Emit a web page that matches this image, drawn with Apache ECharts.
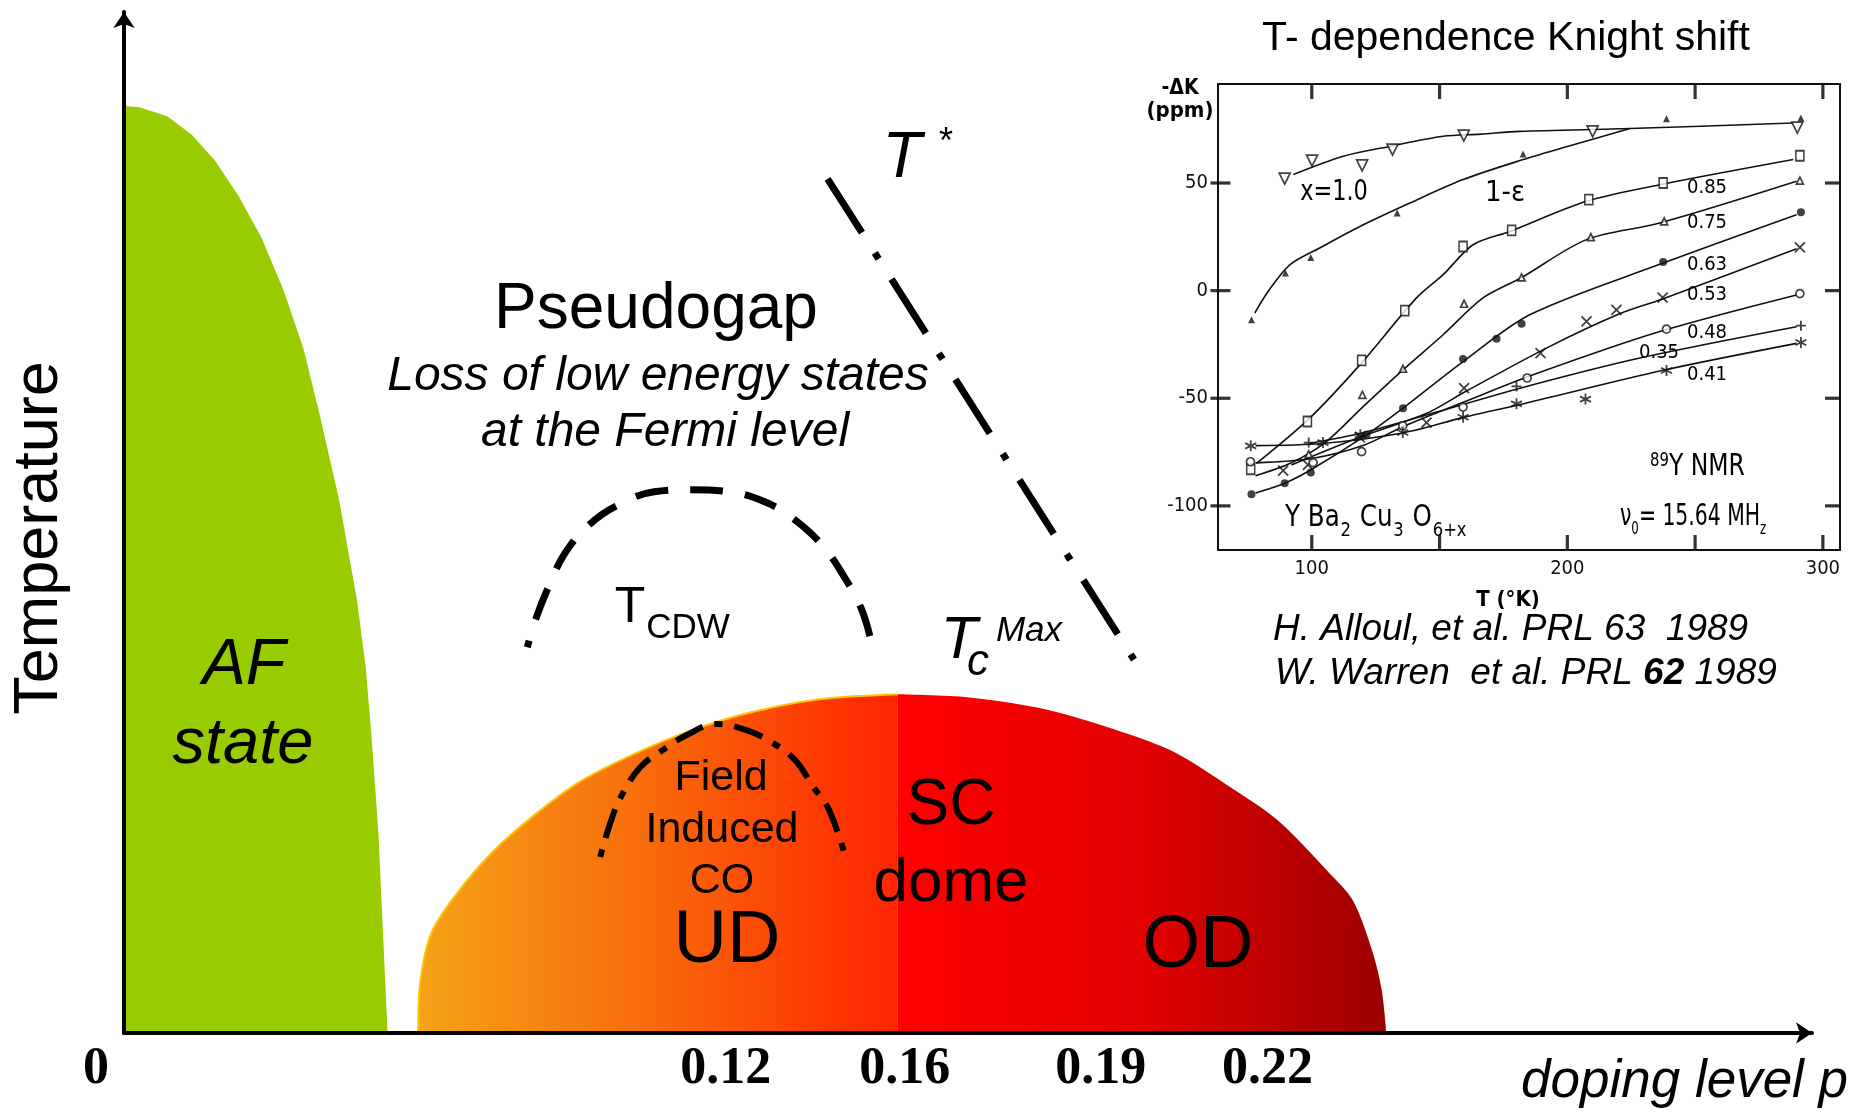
<!DOCTYPE html>
<html><head><meta charset="utf-8">
<script src="https://cdn.jsdelivr.net/npm/echarts@6/dist/echarts.min.js"></script>
<style>html,body{margin:0;padding:0;background:#fff}#c{width:1871px;height:1112px}</style>
</head><body><div id="c"></div>
<script>
// ---------------- Main phase diagram: x = doping level p, y = temperature (arb. units) ----------------
const dopingTicks = [0, 0.12, 0.16, 0.19, 0.22];
const afBoundary = [[0,90.6],[0.0030,90.5],[0.0085,89.6],[0.0133,87.8],[0.0178,85.3],[0.0225,81.8],[0.0270,77.7],[0.0313,72.6],[0.0352,66.9],[0.0384,60.4],[0.0422,52.1],[0.0457,42.3],[0.0474,35.8],[0.0485,29.3],[0.0499,19.6],[0.0508,9.8],[0.0517,0]];
const domeUD = [[0.0577,0],[0.0581,4.9],[0.0603,9.8],[0.0654,13.7],[0.0721,17.6],[0.0800,21.1],[0.0889,24.4],[0.1002,27.3],[0.1114,29.6],[0.1226,31.3],[0.1361,32.6],[0.1518,33.1]];
const domeOD = [[0.1518,33.1],[0.1658,32.8],[0.1811,31.6],[0.1977,29.1],[0.2066,27.3],[0.2168,24.1],[0.2263,20.8],[0.2365,15.6],[0.2410,13.0],[0.2448,8.1],[0.2467,4.2],[0.2476,0]];
const tStarLine = [[0.1380,83.5],[0.1981,36.5]];
const tCdwArc = [[0.0791,37.7],[0.0808,40.5],[0.0830,43.3],[0.0865,46.9],[0.0913,49.7],[0.0965,51.5],[0.1040,52.9],[0.1110,53.1],[0.1188,52.9],[0.1258,51.9],[0.1315,50.2],[0.1371,47.6],[0.1415,44.4],[0.1446,41.5],[0.1463,38.8]];
const fieldCoArc = [[0.0934,17.2],[0.0957,21.0],[0.0977,23.3],[0.1013,26.0],[0.1058,27.7],[0.1103,29.1],[0.1162,30.2],[0.1221,29.6],[0.1271,28.4],[0.1316,26.7],[0.1350,24.2],[0.1383,21.8],[0.1417,16.9]];

// ---------------- Inset: T-dependence of the 89Y Knight shift (T in K, -dK in ppm) ----------------
const insetTRange = [63.3, 306.7];
const insetKRange = [-120.5, 96];
const insetTTicks = [100, 150, 200, 250, 300];
const insetTLabels = [100, 200, 300];
const insetKTicks = [-100, -50, 0, 50];
const x10Curve = [[92.8,53.9],[112.3,62.4],[130.5,67],[151.4,71.7],[166,72.7],[181.4,74],[224.5,75.3],[288.4,77.9]];
const x10Marks = [[89.4,52],[100.1,60.4],[119.7,58.2],[131.6,65.5],[159.5,72],[209.9,74],[290,75.7]];
const epsCurve = [[77.7,-10.4],[82.9,-0.4],[91.4,12],[103.1,19.8],[118.8,29.8],[138.4,40.7],[159.2,51.6],[182.7,60.9],[200,67],[224.5,75.3]];
const epsMarks = [[76.4,-13.5],[89.7,8.2],[99.6,15.4],[133.4,36.1],[182.7,63.5],[238.8,79.8],[291.4,80.2]];
const p85Curve = [[78.4,-80.2],[99.2,-59.2],[118.8,-34.5],[140.9,-3.5],[151.4,7.4],[163.1,21.3],[177.5,27.5],[207.5,41.5],[236.2,49.2],[288.4,60.9]];
const p85Marks = [[76.1,-83],[98.3,-60.8],[119.5,-32.4],[136.4,-9.3],[159.2,20.5],[178.2,28],[208.4,42.3],[237.5,50],[291,62.7]];
const p75Curve = [[78,-86],[92,-80],[105.7,-70.1],[120,-54],[135.7,-36.8],[151.4,-20.5],[167,-3.4],[182,6],[207.5,23.7],[236.2,31.4],[289.7,50.8]];
const p75Marks = [[98.8,-76],[119.8,-48.4],[135.7,-36.3],[159.6,-6.1],[182.1,6.2],[209.2,24.9],[237.9,32.2],[291,51.1]];
const p63Curve = [[78,-94],[89.4,-89.5],[100,-83],[121.4,-67],[135.7,-54.6],[159.2,-33],[185.3,-11.2],[235.6,12],[289.7,35.3]];
const p63Marks = [[76.4,-94.6],[89.4,-89.5],[99.6,-84.5],[121.4,-67],[135.7,-54.6],[159.2,-31.8],[172.3,-22.4],[182.1,-15.4],[237.5,13.3],[291.4,36.4]];
const p53Curve = [[92,-81],[119,-68],[145,-57],[160,-47],[191.8,-26.7],[220,-11],[237,-4],[289.7,19.5]];
const p53Marks = [[88.8,-83.6],[98.5,-81],[118.8,-68.2],[144.9,-61.3],[159.6,-45.3],[189.5,-29],[207.5,-14.3],[219.2,-8.9],[237.3,-3.2],[291,20.1]];
const p48Curve = [[78,-80],[100,-78],[120,-72],[136,-63],[159,-52],[186.6,-39.1],[236.2,-19],[289.7,-2]];
const p48Marks = [[76,-79.5],[100.5,-79.9],[119.5,-74.8],[135.6,-62.8],[159.2,-54.1],[184.3,-40.6],[238.8,-17.9],[291,-1.4]];
const p35Curve = [[99,-71],[120,-66],[150,-56],[184,-44.5],[228.4,-31.3],[289.7,-16.8]];
const p35Marks = [[98.8,-70.6],[180.1,-44.5],[291.4,-16.3]];
const p41Curve = [[78,-72],[104,-71],[136,-66],[159,-59],[184,-52.2],[237.5,-37],[289.7,-24.5]];
const p41Marks = [[76.1,-72.1],[104.4,-70.6],[119,-67],[135.6,-65.9],[159.2,-58.8],[180.1,-52.6],[207.1,-50.4],[238.8,-37.1],[291.4,-24.1]];

// ---------------- styles ----------------
const SANS = "'Liberation Sans', Arial, sans-serif";
const NARROW = "'Liberation Sans Narrow','DejaVu Sans Condensed','Liberation Sans',sans-serif";
const CROSS = 'path://M0,0L10,10M10,0L0,10';
const PLUS = 'path://M5,0L5,10M0,5L10,5';
const STAR = 'path://M5,0L5,10M0.7,2.5L9.3,7.5M0.7,7.5L9.3,2.5';
const insetDefs = [
  {curve: x10Curve, marks: x10Marks, symbol: 'triangle', rotate: 180, size: 11, open: true},
  {curve: epsCurve, marks: epsMarks, symbol: 'triangle', rotate: 0, size: 7, open: false},
  {curve: p85Curve, marks: p85Marks, symbol: 'rect', rotate: 0, size: [8, 10], open: true},
  {curve: p75Curve, marks: p75Marks, symbol: 'triangle', rotate: 0, size: 7, open: true},
  {curve: p63Curve, marks: p63Marks, symbol: 'circle', rotate: 0, size: 8, open: false},
  {curve: p53Curve, marks: p53Marks, symbol: CROSS, rotate: 0, size: 10, path: true},
  {curve: p48Curve, marks: p48Marks, symbol: 'circle', rotate: 0, size: 8, open: true},
  {curve: p35Curve, marks: p35Marks, symbol: PLUS, rotate: 0, size: 10, path: true},
  {curve: p41Curve, marks: p41Marks, symbol: STAR, rotate: 0, size: 11, path: true}
];
const tickShift = [-28, -10, -35, 8, 22];
const tickRich = {};
dopingTicks.forEach((v, i) => {
  const s = tickShift[i];
  tickRich['k' + i] = {padding: s < 0 ? [0, -2 * s, 0, 0] : [0, 0, 0, 2 * s],
    fontSize: 52, fontWeight: 'bold', fontFamily: "'Liberation Serif','Times New Roman',serif", color: '#000'};
});

const chart = echarts.init(document.getElementById('c'), null, {renderer: 'canvas'});

const series = [
  {type: 'line', xAxisIndex: 0, yAxisIndex: 0, data: afBoundary, showSymbol: false, silent: true, z: 1,
   lineStyle: {width: 0, color: '#99CC00'}, areaStyle: {color: '#99CC00', opacity: 1}},
  {type: 'line', xAxisIndex: 0, yAxisIndex: 0, data: domeUD, showSymbol: false, silent: true, smooth: 0.3, z: 1,
   lineStyle: {width: 2, color: '#FFC400'},
   areaStyle: {opacity: 1, color: new echarts.graphic.LinearGradient(0, 0, 1, 0, [
     {offset: 0, color: '#F4A316'}, {offset: 0.5, color: '#F8680B'}, {offset: 1, color: '#FF2400'}])}},
  {type: 'line', xAxisIndex: 0, yAxisIndex: 0, data: domeOD, showSymbol: false, silent: true, smooth: 0.3, z: 1,
   lineStyle: {width: 0, color: '#FF0000'},
   areaStyle: {opacity: 1, color: new echarts.graphic.LinearGradient(0, 0, 1, 0, [
     {offset: 0, color: '#FF0000'}, {offset: 0.5, color: '#E20000'}, {offset: 1, color: '#9C0000'}])}},
  {type: 'line', xAxisIndex: 0, yAxisIndex: 0, data: tStarLine, showSymbol: false, silent: true, z: 3,
   lineStyle: {color: '#000', width: 7, type: [64, 24, 7, 24], cap: 'butt'}},
  {type: 'line', xAxisIndex: 0, yAxisIndex: 0, data: tCdwArc, showSymbol: false, silent: true, smooth: 0.4, z: 3,
   lineStyle: {color: '#000', width: 7, type: [33, 22], dashOffset: 26, cap: 'butt'}},
  {type: 'line', xAxisIndex: 0, yAxisIndex: 0, data: fieldCoArc, showSymbol: false, silent: true, smooth: 0.4, z: 3,
   lineStyle: {color: '#000', width: 6, type: [30, 12, 8, 12], dashOffset: 42, cap: 'butt'}}
];
insetDefs.forEach(d => {
  series.push({type: 'line', xAxisIndex: 1, yAxisIndex: 1, data: d.curve, showSymbol: false, silent: true,
    smooth: 0.3, z: 4, lineStyle: {color: '#111', width: 1.6}});
  series.push({type: 'scatter', xAxisIndex: 1, yAxisIndex: 1, data: d.marks, silent: true, z: 5,
    symbol: d.symbol, symbolSize: d.size, symbolRotate: d.rotate,
    itemStyle: d.path ? {color: 'rgba(0,0,0,0)', borderColor: '#111', borderWidth: 1.8}
      : (d.open ? {color: '#fff', borderColor: '#111', borderWidth: 1.7} : {color: '#111'})});
});
// inset frame tick marks, placed by the inset axes' scales
function tickSeries(data, size, offset) {
  return {type: 'scatter', xAxisIndex: 1, yAxisIndex: 1, data: data, silent: true, z: 6, clip: false,
    symbol: 'rect', symbolSize: size, symbolOffset: offset, itemStyle: {color: '#000'}};
}
series.push(tickSeries(insetTTicks.map(t => [t, insetKRange[0]]), [3.2, 15], [0, -7.5]));
series.push(tickSeries(insetTTicks.map(t => [t, insetKRange[1]]), [3.2, 15], [0, 7.5]));
series.push(tickSeries(insetKTicks.map(k => [insetTRange[0], k]), [20, 3.2], [2.5, 0]));
series.push(tickSeries(insetKTicks.map(k => [insetTRange[1], k]), [15, 3.2], [-7.5, 0]));

function txt(text, x, y, font, align, extra, sx) {
  align = align || 'center';
  const el = {type: 'text', x: x, y: y, z: 100, silent: true,
    style: Object.assign({text: text, font: font, fill: '#000', align: align, verticalAlign: 'middle',
      textAlign: align, textVerticalAlign: 'middle'}, extra || {})};
  if (sx) { el.scaleX = sx; }
  return el;
}
const graphics = [
  txt('Pseudogap', 656, 310, '64px ' + SANS),
  txt('Loss of low energy states', 658, 377, 'italic 48px ' + SANS),
  txt('at the Fermi level', 665, 433, 'italic 48px ' + SANS),
  txt('T', 902, 159, 'italic 64px ' + SANS),
  txt('*', 946, 143, '36px ' + SANS),
  txt('T', 630, 608, '50px ' + SANS),
  txt('CDW', 688, 628, '35px ' + SANS),
  txt('T', 959, 641, 'italic 60px ' + SANS),
  txt('c', 978, 663, 'italic 44px ' + SANS),
  txt('Max', 1029, 631, 'italic 35px ' + SANS),
  txt('AF', 244, 666, 'italic 65px ' + SANS),
  txt('state', 243, 745, 'italic 65px ' + SANS),
  txt('Field', 721, 778, '43px ' + SANS),
  txt('Induced', 722, 830, '43px ' + SANS),
  txt('CO', 722, 881, '43px ' + SANS),
  txt('UD', 727, 942, '74px ' + SANS),
  txt('SC', 951, 806, '64px ' + SANS),
  txt('dome', 951, 884, '62px ' + SANS),
  txt('OD', 1198, 947, '74px ' + SANS),
  txt('doping level p', 1521, 1082, 'italic 53px ' + SANS, 'left'),
  // inset
  txt('T- dependence Knight shift', 1506, 39, '41px ' + SANS),
  txt('-\u0394K', 1180, 89, 'bold 21px ' + NARROW),
  txt('(ppm)', 1180, 111, 'bold 22px ' + NARROW),
  txt('T (\u00b0K)', 1508, 600, 'bold 22px ' + NARROW),
  txt('x=1.0', 1334, 192, '29px ' + NARROW, 'center', null, 0.86),
  txt('1-\u03b5', 1505, 193, '29px ' + NARROW),
  txt('0.85', 1707, 188, '20px ' + NARROW),
  txt('0.75', 1707, 223, '20px ' + NARROW),
  txt('0.63', 1707, 265, '20px ' + NARROW),
  txt('0.53', 1707, 295, '20px ' + NARROW),
  txt('0.48', 1707, 333, '20px ' + NARROW),
  txt('0.35', 1659, 353, '20px ' + NARROW),
  txt('0.41', 1707, 375, '20px ' + NARROW),
  txt('{p|89}{n|Y NMR}', 1650, 467, '30px ' + NARROW, 'left', {rich: {
    p: {fontSize: 19, fontFamily: NARROW, lineHeight: 19, padding: [0, 0, 19, 0], verticalAlign: 'top'},
    n: {fontSize: 30, fontFamily: NARROW, lineHeight: 30, verticalAlign: 'bottom'}}}, 0.87),
  txt('{n|\u03bd}{s|0}{n|= 15.64 MH}{s|z}', 1620, 517, '31px ' + NARROW, 'left', {rich: {
    n: {fontSize: 31, fontFamily: NARROW, lineHeight: 31, verticalAlign: 'top'},
    s: {fontSize: 18, fontFamily: NARROW, lineHeight: 18, padding: [19, 0, 0, 0], verticalAlign: 'top'}}}, 0.73),
  txt('{n|Y Ba}{s|2}{n| Cu}{s|3}{n| O}{s|6+x}', 1285, 518, '30px ' + NARROW, 'left', {rich: {
    n: {fontSize: 30, fontFamily: NARROW, lineHeight: 30, verticalAlign: 'top'},
    s: {fontSize: 20, fontFamily: NARROW, lineHeight: 20, padding: [18, 1, 0, 1], verticalAlign: 'top'}}}, 0.91),
  txt('H. Alloul, et al. PRL 63  1989', 1273, 630, 'italic 37px ' + SANS, 'left'),
  txt('{i|W. Warren  et al. PRL }{b|62}{i| 1989}', 1275, 674, 'italic 37px ' + SANS, 'left', {rich: {
    i: {fontSize: 37, fontStyle: 'italic', fontFamily: SANS},
    b: {fontSize: 37, fontStyle: 'italic', fontWeight: 'bold', fontFamily: SANS}}})
];

const frameLine = {show: true, onZero: false, lineStyle: {color: '#111', width: 2}};
const option = {
  animation: false,
  backgroundColor: '#fff',
  textStyle: {fontFamily: SANS},
  grid: [
    {left: 119, top: 12, width: 1693, height: 1021, show: false},
    {left: 1218, top: 84, width: 622, height: 466, show: false}
  ],
  xAxis: [
    {type: 'value', gridIndex: 0, min: 0, max: 0.3311, z: 10,
     axisLine: {show: true, onZero: false, symbol: ['none', 'arrow'], symbolSize: [16, 16], lineStyle: {color: '#000', width: 4}},
     axisTick: {show: false}, splitLine: {show: false},
     axisLabel: {show: true, customValues: dopingTicks, margin: 11, rich: tickRich,
       fontSize: 52, fontWeight: 'bold', fontFamily: "'Liberation Serif','Times New Roman',serif", color: '#000',
       formatter: function (v) {
         let i = dopingTicks.indexOf(v);
         if (i < 0) { dopingTicks.forEach((t, j) => { if (Math.abs(t - v) < 1e-6) i = j; }); }
         return i < 0 ? '' : '{k' + i + '|' + dopingTicks[i] + '}';
       }}},
    {type: 'value', gridIndex: 1, min: insetTRange[0], max: insetTRange[1], position: 'bottom',
     axisLine: frameLine, splitLine: {show: false}, axisTick: {show: false},
     axisLabel: {show: true, customValues: insetTLabels, margin: 9, fontSize: 20, fontFamily: NARROW, color: '#111'}},
    {type: 'value', gridIndex: 1, min: insetTRange[0], max: insetTRange[1], position: 'top',
     axisLine: frameLine, splitLine: {show: false}, axisLabel: {show: false}, axisTick: {show: false}}
  ],
  yAxis: [
    {type: 'value', gridIndex: 0, min: 0, max: 99.8, z: 10,
     axisLine: {show: true, onZero: false, symbol: ['none', 'arrow'], symbolSize: [16, 16], lineStyle: {color: '#000', width: 4}},
     axisTick: {show: false}, axisLabel: {show: false}, splitLine: {show: false},
     name: 'Temperature', nameLocation: 'middle', nameRotate: 90, nameGap: 53,
     nameTextStyle: {fontSize: 63, color: '#000', fontFamily: SANS, padding: [0, 31, 0, 0]}},
    {type: 'value', gridIndex: 1, min: insetKRange[0], max: insetKRange[1], position: 'left',
     axisLine: frameLine, splitLine: {show: false}, axisTick: {show: false},
     axisLabel: {show: true, customValues: insetKTicks, margin: 10, fontSize: 20, fontFamily: NARROW, color: '#111'}},
    {type: 'value', gridIndex: 1, min: insetKRange[0], max: insetKRange[1], position: 'right',
     axisLine: frameLine, splitLine: {show: false}, axisLabel: {show: false}, axisTick: {show: false}}
  ],
  series: series,
  graphic: graphics
};
chart.setOption(option);
</script></body></html>
